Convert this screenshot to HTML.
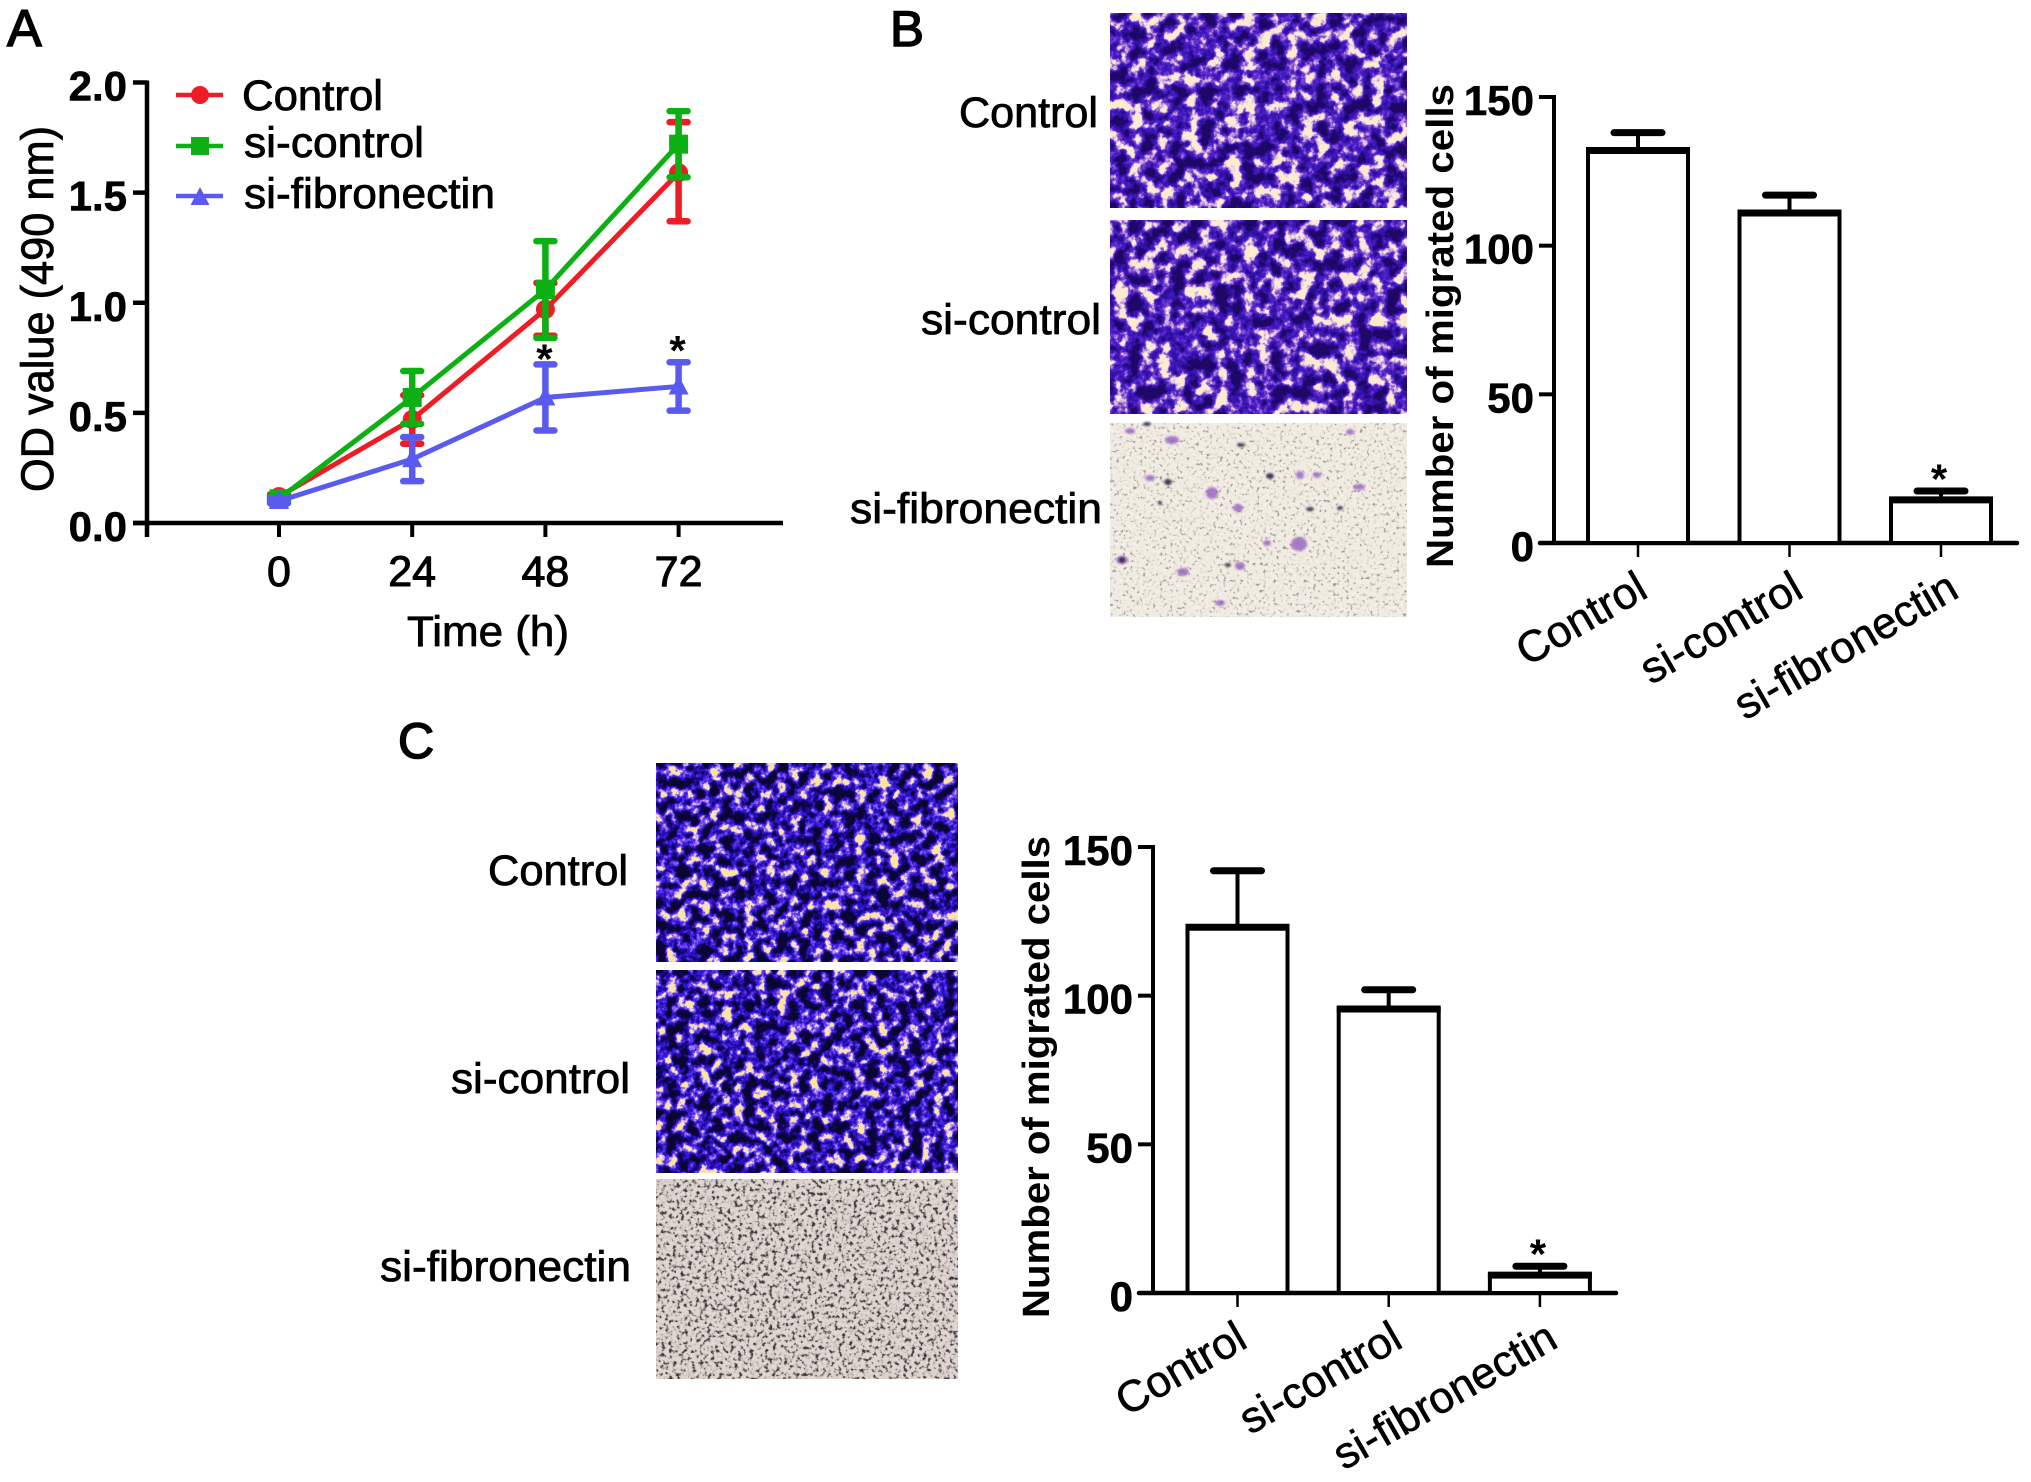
<!DOCTYPE html>
<html lang="en">
<head>
<meta charset="utf-8">
<title>Fibronectin knockdown: proliferation and migration</title>
<style>
  html, body { margin: 0; padding: 0; background: #fff; }
  svg { display: block; }
  text { font-family: "Liberation Sans", sans-serif; fill: #000; }
  .label { font-size: 43px; stroke: #000; stroke-width: 0.8px; }
  .bold { font-size: 42px; font-weight: bold; }
</style>
</head>
<body>
<svg id="figure" xmlns="http://www.w3.org/2000/svg" width="2031" height="1482" viewBox="0 0 2031 1482">
  <defs>
    <filter id="tex-dense" x="0" y="0" width="100%" height="100%" color-interpolation-filters="sRGB">
      <feTurbulence type="fractalNoise" baseFrequency="0.07" numOctaves="5" seed="4"/>
      <feColorMatrix values="2.7 0 0 0 -0.95  2.7 0 0 0 -0.95  2.7 0 0 0 -0.95  0 0 0 0 1"/>
      <feComponentTransfer>
        <feFuncR type="table" tableValues="0.12 0.18 0.22 0.30 0.48 0.80 0.98 1"/>
        <feFuncG type="table" tableValues="0.03 0.06 0.08 0.12 0.28 0.66 0.92 0.92"/>
        <feFuncB type="table" tableValues="0.40 0.58 0.72 0.78 0.80 0.86 0.90 0.80"/>
      </feComponentTransfer>
    </filter>
    <filter id="tex-dark" x="0" y="0" width="100%" height="100%" color-interpolation-filters="sRGB">
      <feTurbulence type="fractalNoise" baseFrequency="0.09" numOctaves="5" seed="9"/>
      <feColorMatrix values="2.8 0 0 0 -1.05  2.8 0 0 0 -1.05  2.8 0 0 0 -1.05  0 0 0 0 1"/>
      <feComponentTransfer>
        <feFuncR type="table" tableValues="0.04 0.08 0.14 0.22 0.38 0.62 0.95 1"/>
        <feFuncG type="table" tableValues="0.02 0.03 0.05 0.10 0.22 0.48 0.88 0.9"/>
        <feFuncB type="table" tableValues="0.20 0.42 0.68 0.85 0.92 0.92 0.85 0.6"/>
      </feComponentTransfer>
    </filter>
    <filter id="tex-sparse" x="0" y="0" width="100%" height="100%" color-interpolation-filters="sRGB">
      <feTurbulence type="fractalNoise" baseFrequency="0.3" numOctaves="2" seed="6"/>
      <feColorMatrix values="2 0 0 0 -0.45  2 0 0 0 -0.45  2 0 0 0 -0.45  0 0 0 0 1"/>
      <feComponentTransfer>
        <feFuncR type="table" tableValues="0.62 0.84 0.93 0.95 0.95 0.96"/>
        <feFuncG type="table" tableValues="0.60 0.82 0.91 0.93 0.93 0.94"/>
        <feFuncB type="table" tableValues="0.60 0.80 0.87 0.89 0.89 0.90"/>
      </feComponentTransfer>
    </filter>
    <filter id="tex-speck" x="0" y="0" width="100%" height="100%" color-interpolation-filters="sRGB">
      <feTurbulence type="fractalNoise" baseFrequency="0.26" numOctaves="2" seed="12"/>
      <feColorMatrix values="2.4 0 0 0 -0.6  2.4 0 0 0 -0.6  2.4 0 0 0 -0.6  0 0 0 0 1"/>
      <feComponentTransfer>
        <feFuncR type="table" tableValues="0.24 0.44 0.73 0.85 0.87 0.88"/>
        <feFuncG type="table" tableValues="0.22 0.41 0.69 0.82 0.84 0.85"/>
        <feFuncB type="table" tableValues="0.26 0.42 0.67 0.79 0.81 0.82"/>
      </feComponentTransfer>
    </filter>
    <filter id="soft" x="-20%" y="-20%" width="140%" height="140%">
      <feGaussianBlur stdDeviation="1"/>
    </filter>
  </defs>

  <text x="7" y="46" font-size="52" stroke="#000" stroke-width="1.5">A</text>
  <text x="890" y="46" font-size="50" stroke="#000" stroke-width="1.5" textLength="34" lengthAdjust="spacingAndGlyphs">B</text>
  <text x="398" y="758" font-size="50" stroke="#000" stroke-width="1.5">C</text>

  <g id="panel-a"></g>
  <text class="label" style="font-size:45px" transform="translate(53 492) rotate(-90)" textLength="366" lengthAdjust="spacingAndGlyphs">OD value (490 nm)</text>
  <text class="label" x="407" y="646" textLength="162" lengthAdjust="spacingAndGlyphs">Time (h)</text>

  <g>
    <g>
      <line x1="176" y1="95" x2="223" y2="95" stroke="#ee1c25" stroke-width="4.5"/>
      <circle cx="200" cy="95" r="9" fill="#ee1c25"/>
      <text class="label" x="242" y="110" textLength="141" lengthAdjust="spacingAndGlyphs">Control</text>
    </g>
    <g>
      <line x1="176" y1="146" x2="223" y2="146" stroke="#0db014" stroke-width="4.5"/>
      <rect x="191" y="137" width="18" height="18" fill="#0db014"/>
      <text class="label" x="244" y="157" textLength="180" lengthAdjust="spacingAndGlyphs">si-control</text>
    </g>
    <g>
      <line x1="176" y1="196" x2="223" y2="196" stroke="#5a5aee" stroke-width="4.5"/>
      <polygon points="200,187 209.5,205 190.5,205" fill="#5a5aee"/>
      <text class="label" x="244" y="208" textLength="251" lengthAdjust="spacingAndGlyphs">si-fibronectin</text>
    </g>
  </g>

  <g>
    <rect x="1110" y="13" width="297" height="195" filter="url(#tex-dense)"/>
    <rect x="1110" y="220" width="297" height="194" filter="url(#tex-dense)"/>
    <rect x="1110" y="423" width="297" height="194" filter="url(#tex-sparse)"/>
    <g fill="#8a4cc0" opacity="0.7" filter="url(#soft)">
      <ellipse cx="1130" cy="431" rx="5" ry="3"/><ellipse cx="1172" cy="440" rx="7" ry="4"/><ellipse cx="1150" cy="478" rx="5" ry="3"/>
      <ellipse cx="1212" cy="493" rx="6" ry="6"/><ellipse cx="1238" cy="508" rx="5" ry="4"/><ellipse cx="1300" cy="475" rx="4" ry="4"/>
      <ellipse cx="1359" cy="487" rx="6" ry="3"/><ellipse cx="1299" cy="544" rx="8" ry="7"/><ellipse cx="1122" cy="560" rx="6" ry="4"/>
      <ellipse cx="1183" cy="572" rx="6" ry="4"/><ellipse cx="1240" cy="566" rx="5" ry="4"/><ellipse cx="1267" cy="543" rx="4" ry="3"/>
      <ellipse cx="1350" cy="432" rx="4" ry="3"/><ellipse cx="1317" cy="475" rx="4" ry="3"/><ellipse cx="1220" cy="603" rx="5" ry="3"/>
    </g>
    <g fill="#2a1a40" opacity="0.85" filter="url(#soft)">
      <ellipse cx="1147" cy="424" rx="4" ry="2"/><ellipse cx="1168" cy="482" rx="4" ry="3"/><ellipse cx="1241" cy="445" rx="4" ry="2"/>
      <ellipse cx="1270" cy="476" rx="4" ry="3"/><ellipse cx="1160" cy="503" rx="2" ry="2"/><ellipse cx="1340" cy="508" rx="3" ry="2"/>
      <ellipse cx="1122" cy="560" rx="3" ry="3"/><ellipse cx="1228" cy="565" rx="3" ry="2"/><ellipse cx="1310" cy="509" rx="4" ry="2"/>
    </g>
  </g>
  <text class="label" x="959" y="127" textLength="139" lengthAdjust="spacingAndGlyphs">Control</text>
  <text class="label" x="921" y="334" textLength="180" lengthAdjust="spacingAndGlyphs">si-control</text>
  <text class="label" x="850" y="523" textLength="252" lengthAdjust="spacingAndGlyphs">si-fibronectin</text>

  <g id="panel-b"></g>
  <text class="bold" style="font-size:38px" transform="translate(1453 568) rotate(-90)" textLength="484" lengthAdjust="spacingAndGlyphs">Number of migrated cells</text>

  <g>
    <rect x="656" y="763" width="302" height="199" filter="url(#tex-dark)"/>
    <rect x="656" y="970" width="302" height="203" filter="url(#tex-dark)"/>
    <rect x="656" y="1179" width="302" height="200" filter="url(#tex-speck)"/>
  </g>
  <text class="label" x="488" y="885" textLength="140" lengthAdjust="spacingAndGlyphs">Control</text>
  <text class="label" x="451" y="1093" textLength="179" lengthAdjust="spacingAndGlyphs">si-control</text>
  <text class="label" x="380" y="1281" textLength="251" lengthAdjust="spacingAndGlyphs">si-fibronectin</text>

  <g id="panel-c"></g>
  <text class="bold" style="font-size:38px" transform="translate(1049 1318) rotate(-90)" textLength="482" lengthAdjust="spacingAndGlyphs">Number of migrated cells</text>
</svg>

<script>
// Panel A data
const timeLabels = ['0', '24', '48', '72'];
const odTicks = [0, 0.5, 1, 1.5, 2];
const controlMeans = [0.12, 0.47, 0.97, 1.59];
const controlUpper = [0.13, 0.58, 1.09, 1.82];
const controlLower = [0.11, 0.36, 0.85, 1.37];
const siControlMeans = [0.11, 0.57, 1.06, 1.72];
const siControlUpper = [0.12, 0.69, 1.28, 1.87];
const siControlLower = [0.10, 0.45, 0.84, 1.57];
const siFibroMeans = [0.10, 0.29, 0.57, 0.62];
const siFibroUpper = [0.11, 0.39, 0.72, 0.73];
const siFibroLower = [0.09, 0.19, 0.42, 0.51];
const odStarFlags = [0, 0, 1, 1];

// Panels B and C data
const barCategories = ['Control', 'si-control', 'si-fibronectin'];
const countTicks = [0, 50, 100, 150];
const panelBMeans = [132, 111, 14.5];
const panelBUpper = [138, 117, 17.5];
const panelCMeans = [123, 95.5, 6];
const panelCUpper = [142, 102, 9];
const barStarFlags = [0, 0, 1];

const SVG_NS = 'http://www.w3.org/2000/svg';
function make(tag, attrs, parent, text) {
  const node = document.createElementNS(SVG_NS, tag);
  for (const key in attrs) node.setAttribute(key, attrs[key]);
  if (text !== undefined) node.textContent = text;
  parent.appendChild(node);
  return node;
}

// ---------- Panel A ----------
const panelA = document.getElementById('panel-a');
const xA = i => 279 + i * 133.2;
const yA = v => 523 - v * 220.25;

const axisYA = make('line', { x1: 147, y1: yA(2) - 2, x2: 147, y2: yA(0) + 14, stroke: '#000', 'stroke-width': 4.5 }, panelA);


const axisXA = make('line', { x1: 133, y1: yA(0), x2: 783, y2: yA(0), stroke: '#000', 'stroke-width': 4.5 }, panelA);



odTicks.forEach(v => {
  const tick = make('line', { x1: 133, y1: yA(v), x2: 147, y2: yA(v), stroke: '#000', 'stroke-width': 4.5 }, panelA);
  
  
  const label = make('text', { x: 127, y: yA(v) + 18, 'text-anchor': 'end', class: 'bold', stroke: '#000', 'stroke-width': 0.6 }, panelA, v.toFixed(1));
  
  
});
timeLabels.forEach((t, i) => {
  const tick = make('line', { x1: xA(i), y1: yA(0), x2: xA(i), y2: yA(0) + 14, stroke: '#000', 'stroke-width': 4 }, panelA);
  
  
  const label = make('text', { x: xA(i), y: 586, 'text-anchor': 'middle', class: 'label', style: 'font-size:43px;stroke-width:1px' }, panelA, t);
  
  
});

function drawSeries(name, means, upper, lower, color, marker) {
  const group = make('g', {}, panelA);
  
  
  const line = make('polyline', {
    points: means.map((v, i) => xA(i) + ',' + yA(v)).join(' '),
    fill: 'none', stroke: color, 'stroke-width': 5, 'stroke-linejoin': 'round'
  }, group);
  
  
  means.forEach((v, i) => {
    const bar = make('path', {
      d: 'M' + xA(i) + ' ' + yA(upper[i]) + 'V' + yA(lower[i]) +
         'M' + (xA(i) - 9) + ' ' + yA(upper[i]) + 'h18' +
         'M' + (xA(i) - 9) + ' ' + yA(lower[i]) + 'h18',
      fill: 'none', stroke: color, 'stroke-width': 6.5, 'stroke-linecap': 'round'
    }, group);
    
    
    const cx = xA(i), cy = yA(v);
    let point;
    if (marker === 'circle') {
      point = make('circle', { cx: cx, cy: cy, r: 9.5, fill: color }, group);
    } else if (marker === 'square') {
      point = make('rect', { x: cx - 9.5, y: cy - 9.5, width: 19, height: 19, fill: color }, group);
    } else {
      point = make('polygon', { points: cx + ',' + (cy - 11) + ' ' + (cx + 10) + ',' + (cy + 8) + ' ' + (cx - 10) + ',' + (cy + 8), fill: color }, group);
    }
    
    
  });
}
drawSeries('control', controlMeans, controlUpper, controlLower, '#ee1c25', 'circle');
drawSeries('si-control', siControlMeans, siControlUpper, siControlLower, '#0db014', 'square');
drawSeries('si-fibronectin', siFibroMeans, siFibroUpper, siFibroLower, '#5a5aee', 'triangle');

odStarFlags.forEach((flag, i) => {
  if (!flag) return;
  const star = make('text', { x: xA(i) - 1, y: yA(siFibroUpper[i]) + (i === 2 ? 9 : 3), 'text-anchor': 'middle', style: 'font-size:42px;font-weight:bold' }, panelA, '*');
  
  
});

// ---------- Panels B and C ----------
function drawBarChart(root, means, upper, geo) {
  const y = v => geo.y0 - v * (geo.y0 - geo.y150) / 150;
  const x = i => geo.x0 + i * geo.step;

  const axisY = make('line', { x1: geo.axisX, y1: y(150) - 2, x2: geo.axisX, y2: y(0) + 2, stroke: '#000', 'stroke-width': 4 }, root);
  
  
  const axisX = make('line', { x1: geo.axisX - 14, y1: y(0), x2: geo.endX, y2: y(0), stroke: '#000', 'stroke-width': 4.5, 'stroke-linecap': 'round' }, root);
  
  

  countTicks.forEach(v => {
    const tick = make('line', { x1: geo.axisX - 15, y1: y(v), x2: geo.axisX, y2: y(v), stroke: '#000', 'stroke-width': 4 }, root);
    
    
    const label = make('text', { x: geo.axisX - 20, y: y(v) + 18, 'text-anchor': 'end', class: 'bold', stroke: '#000', 'stroke-width': 0.6 }, root, String(v));
    
    
  });

  barCategories.forEach((name, i) => {
    const cx = x(i), top = y(means[i]), up = y(upper[i]);
    const body = make('rect', { x: cx - 50, y: top, width: 100, height: y(0) - top, fill: '#fff', stroke: '#000', 'stroke-width': 4 }, root);
    
    
    const stem = make('line', { x1: cx, y1: top, x2: cx, y2: up, stroke: '#000', 'stroke-width': 4 }, root);
    
    
    const meanLine = make('line', { x1: cx - 52, y1: top, x2: cx + 52, y2: top, stroke: '#000', 'stroke-width': 7 }, root);
    
    
    const upperCap = make('line', { x1: cx - 24, y1: up, x2: cx + 24, y2: up, stroke: '#000', 'stroke-width': 7, 'stroke-linecap': 'round' }, root);
    
    
    const tick = make('line', { x1: cx, y1: y(0), x2: cx, y2: y(0) + 14, stroke: '#000', 'stroke-width': 2.5 }, root);
    
    
    const label = make('text', {
      transform: 'translate(' + (cx + 12 + i * 4) + ' ' + (y(0) + 53) + ') rotate(-30)',
      'text-anchor': 'end', class: 'label', style: 'font-size:44px;stroke-width:0.6px'
    }, root, name);
    
    
    if (barStarFlags[i]) {
      const star = make('text', { x: cx - 2, y: up + 2.5, 'text-anchor': 'middle', style: 'font-size:42px;font-weight:bold' }, root, '*');
      
      
    }
  });
}

drawBarChart(document.getElementById('panel-b'), panelBMeans, panelBUpper,
  { axisX: 1554, endX: 2017, y0: 543, y150: 97, x0: 1638, step: 151.5 });
drawBarChart(document.getElementById('panel-c'), panelCMeans, panelCUpper,
  { axisX: 1153, endX: 1616, y0: 1293, y150: 847, x0: 1237.5, step: 151.2 });
</script>
</body>
</html>
